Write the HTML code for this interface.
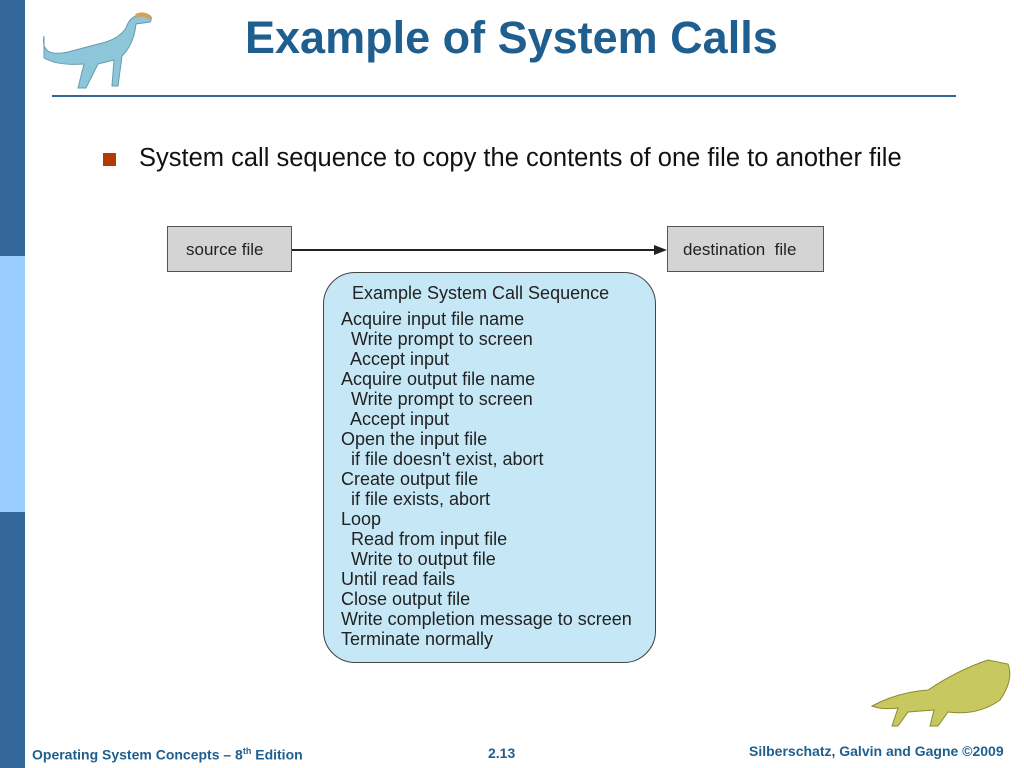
<!DOCTYPE html>
<html><head><meta charset="utf-8"><style>
body{margin:0;width:1024px;height:768px;background:#fff;position:relative;overflow:hidden;font-family:"Liberation Sans",sans-serif}
div{position:absolute}
.t{font-size:17px;color:#222;white-space:nowrap}
</style></head><body>
<div style="left:0;top:0;width:25px;height:256px;background:#336699"></div>
<div style="left:0;top:256px;width:25px;height:256px;background:#99ccff"></div>
<div style="left:0;top:512px;width:25px;height:256px;background:#336699"></div>
<svg style="position:absolute;left:38px;top:8px" width="120" height="88">
<path d="M6 28 Q2 50 30 44 L60 36 Q80 32 88 20 Q92 6 108 6 Q116 8 112 14 L98 16 Q96 36 84 48 L80 78 L74 78 L76 52 L60 56 L48 80 L40 80 L46 56 Q20 58 6 50 Z" fill="#8cc6d8" stroke="#6a9ab0"/>
<path d="M98 8 Q106 4 112 10" stroke="#d9a050" stroke-width="4" fill="none"/>
</svg>
<div style="left:245px;top:12px;font-size:45px;font-weight:bold;color:#1f5f8f">Example of System Calls</div>
<div style="left:52px;top:95px;width:904px;height:2px;background:#336699"></div>
<div style="left:103px;top:153px;width:13px;height:13px;background:#b33a00"></div>
<div style="left:139px;top:144px;font-size:25.5px;color:#111;white-space:nowrap">System call sequence to copy the contents of one file to another file</div>
<div style="left:167px;top:226px;width:125px;height:46px;background:#d4d4d4;border:1px solid #555;box-sizing:border-box"></div>
<div class="t" style="left:186px;top:240px">source file</div>
<div style="left:667px;top:226px;width:157px;height:46px;background:#d4d4d4;border:1px solid #555;box-sizing:border-box"></div>
<div class="t" style="left:683px;top:240px">destination&nbsp; file</div>
<svg style="position:absolute;left:292px;top:240px" width="376" height="20"><line x1="0" y1="10" x2="364" y2="10" stroke="#222" stroke-width="2"/><polygon points="375,10 362,5 362,15" fill="#222"/></svg>
<div style="left:323px;top:272px;width:333px;height:391px;background:#c6e8f6;border:1.5px solid #444;border-radius:32px;box-sizing:border-box"></div>
<div class="t" style="left:352px;top:283px;font-size:18px">Example System Call Sequence</div>
<div class="t" style="left:341px;top:309px;line-height:20px;font-size:18px">Acquire input file name<br>&nbsp; Write prompt to screen<br>&nbsp; Accept input<br>Acquire output file name<br>&nbsp; Write prompt to screen<br>&nbsp; Accept input<br>Open the input file<br>&nbsp; if file doesn't exist, abort<br>Create output file<br>&nbsp; if file exists, abort<br>Loop<br>&nbsp; Read from input file<br>&nbsp; Write to output file<br>Until read fails<br>Close output file<br>Write completion message to screen<br>Terminate normally</div>
<svg style="position:absolute;left:868px;top:640px" width="150" height="90">
<path d="M4 66 Q30 52 60 50 Q90 30 120 20 L140 24 Q146 40 132 60 Q110 76 80 72 L70 86 L62 86 L66 70 L40 72 L30 86 L24 86 L30 68 Q14 70 4 66Z" fill="#c8c860" stroke="#8a8a30"/>
</svg>
<div style="left:32px;top:746px;font-size:14px;font-weight:bold;color:#1f5f8f;white-space:nowrap">Operating System Concepts – 8<sup style="font-size:9px">th</sup> Edition</div>
<div style="left:488px;top:745px;font-size:14px;font-weight:bold;color:#1f5f8f">2.13</div>
<div style="left:749px;top:743px;font-size:14px;font-weight:bold;color:#1f5f8f;white-space:nowrap">Silberschatz, Galvin and Gagne ©2009</div>
</body></html>
